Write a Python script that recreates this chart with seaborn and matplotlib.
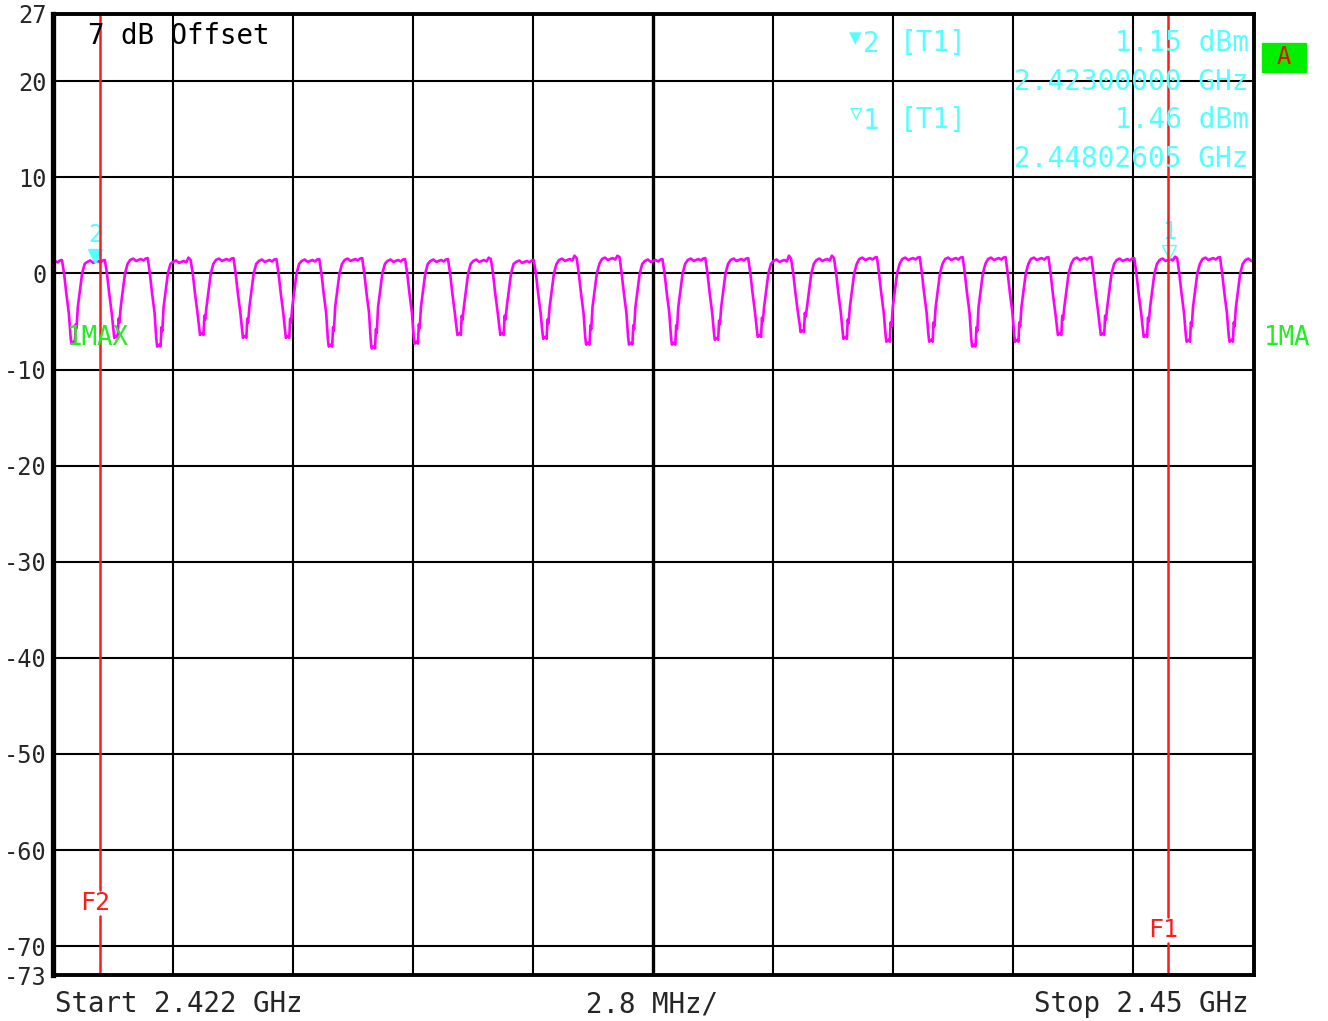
import numpy as np
import pandas as pd
import matplotlib
matplotlib.use("Agg")
import matplotlib.pyplot as plt
import seaborn as sns
from matplotlib.patches import Rectangle

# spectrum analyser sweep: 2.422 .. 2.450 GHz, 29 hop channels 1 MHz apart
start_ghz = 2.422
stop_ghz = 2.450
peak_levels = [1.3, 1.3, 1.5, 1.3, 1.5, 1.4, 1.4, 1.5, 1.4, 1.4,
               1.4, 1.3, 1.5, 1.6, 1.4, 1.5, 1.5, 1.4, 1.5, 1.6,
               1.6, 1.6, 1.6, 1.6, 1.6, 1.5, 1.5, 1.6, 1.5]
peak_spikes = [0.0, 0.0, 0.0, 0.3, 0.0, 0.0, 0.0, 0.0, 0.0, 0.0,
               0.2, 0.0, 0.3, 0.2, 0.0, 0.0, 0.0, 0.4, 0.3, 0.0,
               0.0, 0.0, 0.0, 0.0, 0.0, 0.0, 0.2, 0.0, 0.0]
dip_levels = [-7.3, -6.7, -7.6, -6.4, -6.7, -6.7, -7.6, -7.8, -7.3, -6.4,
              -6.4, -6.8, -7.4, -7.4, -7.4, -6.9, -6.6, -6.1, -6.8, -7.1,
              -7.1, -7.6, -7.1, -6.4, -6.4, -6.6, -7.1, -7.1]

# shape of one hop (offsets in MHz)
plateau_dx = [-0.19, -0.12, -0.05, 0.0, 0.06, 0.12, 0.17, 0.22]
plateau_ripple = [-0.1, 0.05, -0.2, -0.1, 0.0, -0.15, 0.05, 0.1]
fall_dx = [-0.23, -0.18, -0.12]
fall_db = [0.0, -2.0, -4.1]
bottom_dx = [-0.08, -0.06, -0.01, 0.02, 0.04, 0.06]
bottom_rel = [0.8, 0.0, 0.2, 0.0, 2.0, 1.6]
rise_dx = [0.09, 0.15, 0.19, 0.25]
rise_db = [-3.5, -1.4, 0.0, 1.0]

y_ticks = [27, 20, 10, 0, -10, -20, -30, -40, -50, -60, -70, -73]
marker2 = (2.423, 1.15)
marker1 = (2.44802605, 1.46)
f2_ghz = 2.4231
f1_ghz = 2.4480

span_mhz = (stop_ghz - start_ghz) * 1000
f_mhz, lvl = [], []
for k in range(len(peak_levels)):
    for i, (dx, r) in enumerate(zip(plateau_dx, plateau_ripple)):
        x = k + dx
        if 0 <= x <= span_mhz + 1e-9:
            f_mhz.append(x)
            lvl.append(peak_levels[k] + r + (peak_spikes[k] if i == 6 else 0))
    if k < len(dip_levels):
        c = k + 0.5
        d = dip_levels[k]
        for dx, v in zip(fall_dx, fall_db):
            f_mhz.append(c + dx); lvl.append(v)
        for dx, v in zip(bottom_dx, bottom_rel):
            f_mhz.append(c + dx); lvl.append(d + v)
        for dx, v in zip(rise_dx, rise_db):
            f_mhz.append(c + dx); lvl.append(v)

df = pd.DataFrame({"freq_ghz": start_ghz + np.array(f_mhz) / 1000, "level_dbm": lvl})

sns.set_style("white")
plt.rcParams["font.family"] = ["DejaVu Sans Mono", "DejaVu Sans"]

W, H = 1328, 1021
fig = plt.figure(figsize=(W / 100, H / 100), dpi=100)
ax = fig.add_axes([52.5 / W, 46 / H, 1201 / W, 961 / H])


def px(x, y):
    return x / W, 1 - y / H


# grid
for i in range(1, 10):
    ax.axvline(start_ghz + i * (stop_ghz - start_ghz) / 10, color="black",
               lw=2.4 if i == 5 else 1.5, zorder=1)
for v in y_ticks[1:-1]:
    ax.axhline(v, color="black", lw=1.5, zorder=1)

sns.lineplot(data=df, x="freq_ghz", y="level_dbm", color="#ff00ff", lw=1.9,
             sort=False, estimator=None, ax=ax, zorder=3)

ax.set_xlim(start_ghz, stop_ghz)
ax.set_ylim(-73, 27)
ax.set_xticks([])
ax.set_yticks(y_ticks)
ax.set_yticklabels([str(v) for v in y_ticks])
ax.tick_params(axis="y", length=0, pad=4, labelsize=17)
ax.set_xlabel("")
ax.set_ylabel("")
for side, sp in ax.spines.items():
    sp.set_color("black")
    sp.set_linewidth(3.8 if side == "left" else 2.8)
    sp.set_zorder(6)

# display lines F1/F2 with gaps for labels
red = "#ff1a1a"
for f, lab, ylab in [(f2_ghz, "F2", -65.5), (f1_ghz, "F1", -68.3)]:
    ax.plot([f, f], [-73, ylab - 1.4], color=red, lw=1.8, zorder=5)
    ax.plot([f, f], [ylab + 1.3, 27], color=red, lw=1.8, zorder=5)
    ax.text(f - 0.0001, ylab, lab, color=red, fontsize=18, ha="center", va="center", zorder=5)

# markers
cyan = "#55ffff"
ax.plot(marker2[0], 1.8, marker="v", ms=10, color=cyan, ls="", zorder=4)
ax.plot(marker1[0], 2.2, marker="v", ms=10, mfc="none", mec=cyan, mew=1.0, ls="", zorder=4)
ax.text(marker2[0], 4.0, "2", color=cyan, fontsize=17, ha="center", va="center", zorder=4)
ax.text(marker1[0], 4.3, "1", color=cyan, fontsize=17, ha="center", va="center", zorder=4)

# header / footer texts
fig.text(*px(88, 36), "7 dB Offset", fontsize=19.8, ha="left", va="center", color="black")
fig.text(*px(855, 38), "\u25bc", fontsize=15, ha="center", va="center", color=cyan)
fig.text(*px(871, 44), "2", fontsize=20, ha="center", va="center", color=cyan)
fig.text(*px(856, 114), "\u25bd", fontsize=15, ha="center", va="center", color=cyan)
fig.text(*px(871, 121), "1", fontsize=20, ha="center", va="center", color=cyan)
fig.text(*px(900, 43), "[T1]", fontsize=20, ha="left", va="center", color=cyan)
fig.text(*px(900, 120), "[T1]", fontsize=20, ha="left", va="center", color=cyan)
fig.text(*px(1249, 43), f"{marker2[1]:.2f} dBm", fontsize=20, ha="right", va="center", color=cyan)
fig.text(*px(1249, 82), f"{marker2[0]:.8f} GHz", fontsize=20, ha="right", va="center", color=cyan)
fig.text(*px(1249, 120), f"{marker1[1]:.2f} dBm", fontsize=20, ha="right", va="center", color=cyan)
fig.text(*px(1249, 159), f"{marker1[0]:.8f} GHz", fontsize=20, ha="right", va="center", color=cyan)

fig.patches.append(Rectangle(px(1262, 72), 44 / W, 29 / H, transform=fig.transFigure,
                             color="#00ee00", zorder=1))
fig.text(*px(1284, 57), "A", fontsize=17, ha="center", va="center", color="#ff0000")

green = "#22ee22"
fig.text(*px(67, 338), "1MAX", fontsize=18.5, ha="left", va="center", color=green)
fig.text(*px(1264, 338), "1MA", fontsize=18.5, ha="left", va="center", color=green)

fig.text(*px(55, 1004), f"Start {start_ghz:.3f} GHz", fontsize=19.8, ha="left", va="center")
fig.text(*px(652, 1004), "2.8 MHz/", fontsize=19.8, ha="center", va="center")
fig.text(*px(1248, 1004), f"Stop {stop_ghz:.2f} GHz", fontsize=19.8, ha="right", va="center")

fig.savefig("out.png", dpi=100)
